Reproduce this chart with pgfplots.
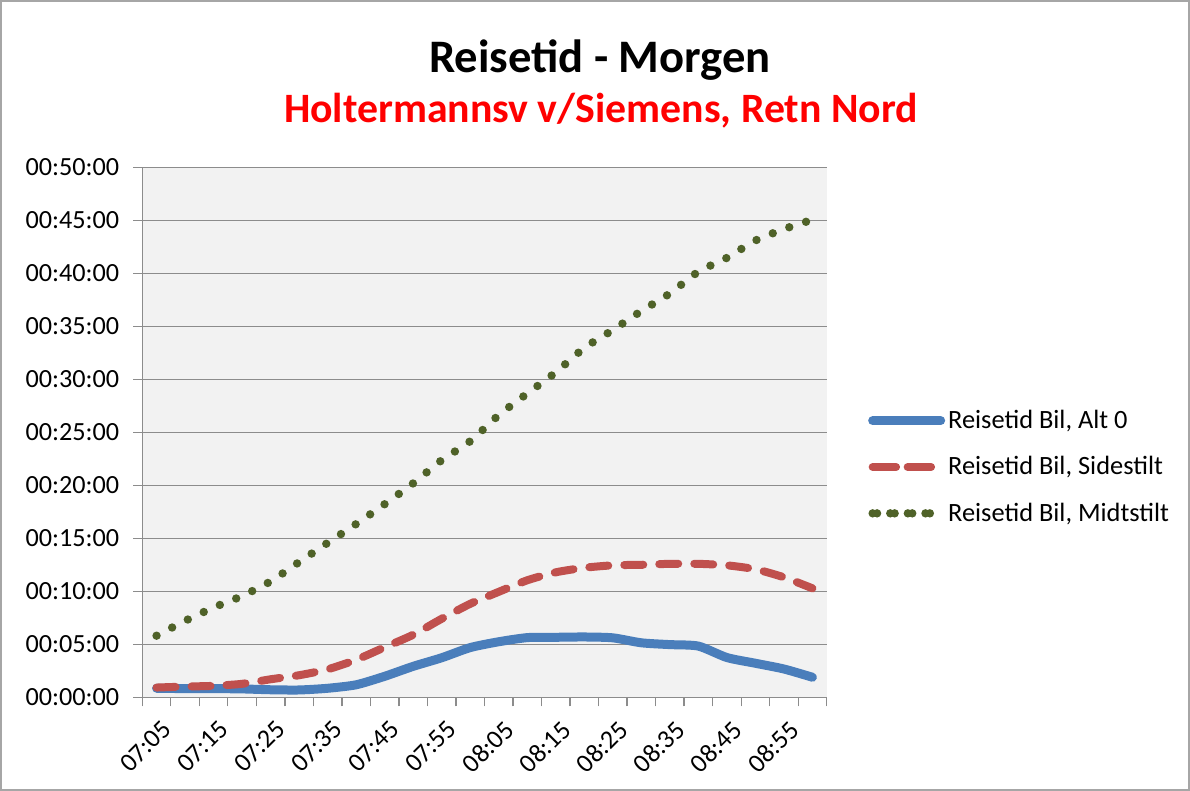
\documentclass[border=0pt]{standalone}
\usepackage{pgfplots}
\pgfplotsset{compat=1.18}
\usepackage{pgfplotstable}
\usepackage{fontspec}
\setmainfont{Carlito}
\definecolor{blueline}{HTML}{4A7EBB}
\definecolor{redline}{HTML}{C0504D}
\definecolor{greenline}{HTML}{4F6228}
\definecolor{plotbg}{HTML}{F2F2F2}
\definecolor{gridc}{HTML}{8C8C8C}
\definecolor{framec}{HTML}{A6A6A6}
\pgfplotstableread{
i alt side midt
0 0.85 0.92 5.81
1 0.82 1.01 7.21
2 0.82 1.08 8.47
3 0.79 1.27 9.56
4 0.71 1.70 10.94
5 0.69 2.08 12.76
6 0.85 2.64 14.57
7 1.18 3.54 16.35
8 1.98 4.72 18.22
9 2.92 5.90 20.19
10 3.73 7.41 22.37
11 4.69 8.82 24.16
12 5.24 9.95 26.62
13 5.63 11.04 28.66
14 5.66 11.79 30.66
15 5.69 12.22 32.96
16 5.61 12.45 34.65
17 5.14 12.50 36.44
18 4.97 12.59 38.10
19 4.83 12.59 40.15
20 3.75 12.45 41.46
21 3.21 12.08 43.09
22 2.67 11.32 44.17
23 1.89 10.28 45.05
}\datatable
\begin{document}
\begin{tikzpicture}
\useasboundingbox (0,0) rectangle (595pt,395.5pt);
\draw[framec, line width=0.8pt] (0.4pt,0.4pt) rectangle (594.6pt,395.1pt);
\node[font=\fontsize{23.3}{28}\selectfont\bfseries] at (300pt,365.5pt) {Reisetid - Morgen};
\node[font=\fontsize{20.9}{25}\selectfont\bfseries, text=red] at (300.5pt,340pt) {Holtermannsv v/Siemens, Retn Nord};
\begin{axis}[
  at={(71.15pt,46.85pt)}, anchor=south west,
  scale only axis, width=342.2pt, height=265pt,
  xmin=-0.5, xmax=23.5, ymin=0, ymax=50,
  axis x line*=bottom, axis y line*=left,
  axis line style={gridc, line width=0.65pt, -},
  axis background/.style={fill=plotbg},
  tick align=outside,
  major tick length=4.5pt,
  tick style={gridc, line width=0.65pt},
  ytick={0,5,...,50},
  yticklabels={00:00:00,00:05:00,00:10:00,00:15:00,00:20:00,00:25:00,00:30:00,00:35:00,00:40:00,00:45:00,00:50:00},
  yticklabel style={xshift=-3.5pt},
  ymajorgrids,
  grid style={gridc, line width=0.65pt},
  xtick={-0.5,0.5,...,23.5},
  xticklabels={},
  extra x ticks={0,2,...,22},
  extra x tick labels={07:05,07:15,07:25,07:35,07:45,07:55,08:05,08:15,08:25,08:35,08:45,08:55},
  extra x tick style={major tick length=0pt},
  ticklabel style={font=\fontsize{13.1}{15}\selectfont, text=black},
  xticklabel style={rotate=45, anchor=north east, inner sep=1pt, xshift=-5.1pt, yshift=-7.9pt},
  legend style={at={(1.060,0.4345)}, anchor=west, draw=none, fill=none,
    font=\fontsize{13.2}{15}\selectfont, row sep=8.5pt, inner xsep=0pt,
    nodes={inner xsep=1.5pt}},
  legend cell align=left,
  legend image code/.code={\path (0pt,0pt) -- (34pt,0pt); \draw[#1] (2.2pt,0pt) -- (31.8pt,0pt);},
  clip=false,
]
\addplot[blueline, line width=4.5pt, line cap=round, line join=round, smooth, tension=0.4] table[x=i, y=alt] {\datatable};
\addlegendentry{Reisetid Bil, Alt 0}
\addplot[redline, line width=4pt, line cap=round, line join=round, dash pattern=on 9.5pt off 8pt, smooth, tension=0.4] table[x=i, y=side] {\datatable};
\addlegendentry{Reisetid Bil, Sidestilt}
\addplot[greenline, line width=4.2pt, line cap=round, dash pattern=on 0pt off 8.8pt, smooth, tension=0.4] table[x=i, y=midt] {\datatable};
\addlegendentry{Reisetid Bil, Midtstilt}
\end{axis}
\end{tikzpicture}
\end{document}
